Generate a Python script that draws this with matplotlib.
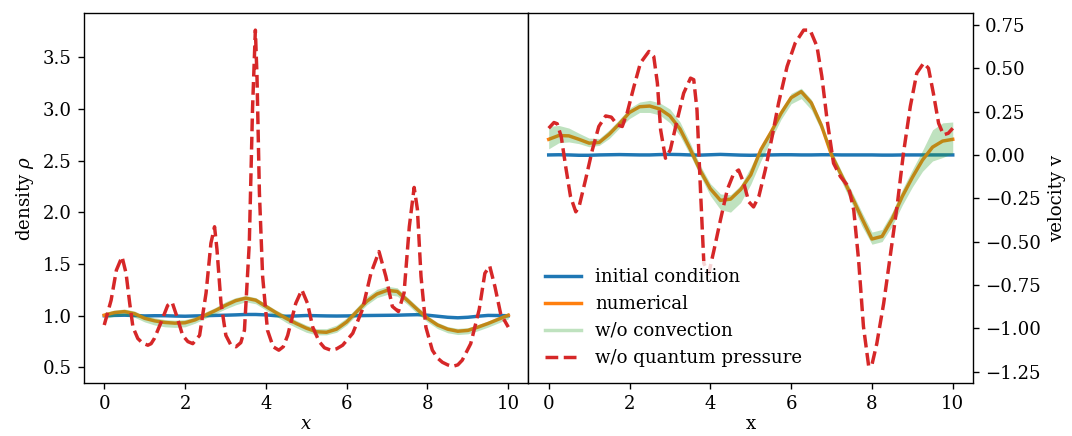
import numpy as np
import matplotlib
matplotlib.use("Agg")
import matplotlib.pyplot as plt
from matplotlib.lines import Line2D

# grid for the smooth solutions
x = np.linspace(0, 10, 41)

# density: initial condition
rho_init = [1.0, 1.003, 1.005, 1.002, 0.998, 1.0, 1.0, 0.997, 0.995, 0.998,
            1.0, 1.003, 1.005, 1.008, 1.012, 1.012, 1.008, 1.0, 0.995, 0.998,
            1.002, 1.0, 0.998, 0.997, 0.998, 1.0, 1.002, 1.003, 1.004, 1.005,
            1.008, 1.01, 1.005, 0.995, 0.985, 0.98, 0.985, 0.995, 1.003, 1.002, 1.0]
# density: numerical
rho_num = [1.005, 1.03, 1.04, 1.02, 0.975, 0.95, 0.935, 0.928, 0.932, 0.96,
           1.005, 1.05, 1.10, 1.145, 1.17, 1.15, 1.09, 1.03, 0.975, 0.925,
           0.88, 0.845, 0.84, 0.87, 0.94, 1.04, 1.14, 1.21, 1.245, 1.235,
           1.15, 1.06, 0.975, 0.91, 0.87, 0.85, 0.858, 0.89, 0.925, 0.965, 1.005]
# density: w/o convection (center and spread)
rho_conv = [1.0, 1.025, 1.035, 1.015, 0.97, 0.945, 0.928, 0.922, 0.928, 0.958,
            1.005, 1.05, 1.10, 1.14, 1.165, 1.145, 1.085, 1.025, 0.97, 0.92,
            0.875, 0.845, 0.845, 0.875, 0.945, 1.045, 1.145, 1.215, 1.245, 1.23,
            1.145, 1.055, 0.97, 0.905, 0.865, 0.848, 0.855, 0.885, 0.92, 0.96, 1.0]
rho_conv_err = [0.03, 0.03, 0.03, 0.03, 0.03, 0.035, 0.035, 0.035, 0.035, 0.03,
                0.03, 0.03, 0.035, 0.035, 0.03, 0.03, 0.03, 0.03, 0.035, 0.035,
                0.035, 0.03, 0.03, 0.035, 0.035, 0.035, 0.04, 0.04, 0.04, 0.04,
                0.035, 0.035, 0.03, 0.03, 0.03, 0.03, 0.03, 0.03, 0.03, 0.03, 0.03]

# density: w/o quantum pressure
x_rho_qp = [0, 0.17, 0.30, 0.44, 0.54, 0.63, 0.71, 0.83, 0.95, 1.08, 1.16, 1.24, 1.41,
            1.57, 1.68, 1.80, 1.94, 2.07, 2.19, 2.36, 2.52, 2.64, 2.73, 2.79, 2.89,
            3.01, 3.13, 3.26, 3.38, 3.47, 3.59, 3.67, 3.74, 3.78, 3.84, 3.92, 4.04,
            4.18, 4.32, 4.43, 4.54, 4.74, 4.89, 5.03, 5.16, 5.32, 5.45, 5.61, 5.75,
            5.90, 6.15, 6.39, 6.60, 6.80, 6.97, 7.13, 7.28, 7.42, 7.55, 7.67, 7.75,
            7.84, 7.96, 8.12, 8.25, 8.37, 8.50, 8.62, 8.75, 8.86, 9.07, 9.28, 9.42,
            9.54, 9.67, 9.81, 10.0]
rho_qp = [0.91, 1.15, 1.44, 1.57, 1.41, 1.12, 0.89, 0.78, 0.735, 0.715, 0.73, 0.78, 0.94,
          1.10, 1.13, 0.99, 0.81, 0.75, 0.73, 0.81, 1.22, 1.70, 1.86, 1.64, 1.12,
          0.81, 0.72, 0.70, 0.74, 0.86, 1.70, 3.00, 3.76, 3.32, 2.19, 1.38, 0.86,
          0.70, 0.667, 0.70, 0.81, 1.12, 1.25, 1.12, 0.89, 0.75, 0.69, 0.667, 0.68,
          0.715, 0.83, 1.06, 1.41, 1.62, 1.38, 1.09, 1.04, 1.22, 1.86, 2.24, 2.03,
          1.38, 0.89, 0.667, 0.59, 0.55, 0.525, 0.51, 0.525, 0.57, 0.73, 1.06, 1.41,
          1.48, 1.28, 1.02, 0.89]

# velocity: initial condition
v_init = [0.0, 0.001, 0.0, -0.002, -0.002, 0.0, 0.001, 0.002, 0.001, 0.0,
          0.0, 0.002, 0.003, 0.002, 0.0, -0.001, 0.001, 0.003, 0.001, -0.001,
          -0.002, -0.001, 0.0, 0.001, 0.001, 0.0, 0.0, 0.001, 0.001, 0.0,
          0.0, 0.0, 0.0, -0.001, -0.001, 0.0, 0.0, 0.0, 0.0, 0.0, 0.0]
# velocity: numerical
v_num = [0.09, 0.112, 0.11, 0.09, 0.068, 0.072, 0.12, 0.18, 0.245, 0.278,
         0.282, 0.265, 0.225, 0.15, 0.035, -0.09, -0.195, -0.262, -0.255, -0.2,
         -0.115, 0.03, 0.13, 0.24, 0.33, 0.365, 0.3, 0.17, 0.0, -0.12,
         -0.24, -0.365, -0.485, -0.47, -0.37, -0.24, -0.13, -0.03, 0.045, 0.08, 0.09]
# velocity: w/o convection (center and spread)
v_conv = [0.10, 0.12, 0.115, 0.095, 0.072, 0.075, 0.12, 0.18, 0.24, 0.275,
          0.28, 0.265, 0.225, 0.15, 0.035, -0.09, -0.2, -0.27, -0.28, -0.225,
          -0.12, 0.01, 0.12, 0.235, 0.325, 0.355, 0.29, 0.165, 0.0, -0.125,
          -0.245, -0.37, -0.48, -0.465, -0.37, -0.245, -0.135, -0.035, 0.055, 0.085, 0.10]
v_conv_err = [0.065, 0.05, 0.04, 0.03, 0.025, 0.02, 0.025, 0.025, 0.03, 0.03,
              0.035, 0.035, 0.04, 0.04, 0.035, 0.03, 0.035, 0.045, 0.05, 0.05,
              0.05, 0.045, 0.035, 0.03, 0.03, 0.03, 0.03, 0.025, 0.025, 0.03,
              0.035, 0.04, 0.035, 0.035, 0.04, 0.045, 0.05, 0.06, 0.09, 0.1, 0.09]

# velocity: w/o quantum pressure
x_v_qp = [0, 0.13, 0.21, 0.31, 0.42, 0.54, 0.67, 0.75, 0.91, 1.08, 1.24, 1.41, 1.55,
          1.70, 1.82, 1.94, 2.11, 2.27, 2.48, 2.60, 2.69, 2.77, 2.89, 3.01, 3.18,
          3.34, 3.51, 3.59, 3.67, 3.76, 3.84, 3.96, 4.09, 4.25, 4.42, 4.58, 4.70,
          4.83, 4.95, 5.07, 5.20, 5.36, 5.53, 5.69, 5.90, 6.10, 6.31, 6.47, 6.64,
          6.76, 6.89, 7.05, 7.22, 7.42, 7.55, 7.67, 7.79, 7.92, 8.00, 8.12, 8.29,
          8.45, 8.62, 8.78, 8.95, 9.11, 9.28, 9.40, 9.52, 9.65, 9.77, 9.89, 10.0]
v_qp = [0.154, 0.187, 0.18, 0.106, -0.067, -0.24, -0.328, -0.30, -0.145, 0.029, 0.164,
        0.225, 0.218, 0.173, 0.164, 0.241, 0.395, 0.53, 0.597, 0.568, 0.414, 0.145,
        -0.019, 0.029, 0.202, 0.356, 0.443, 0.434, 0.26, -0.22, -0.626, -0.684,
        -0.55, -0.376, -0.20, -0.106, -0.087, -0.164, -0.27, -0.30, -0.24, -0.087,
        0.106, 0.30, 0.51, 0.645, 0.72, 0.72, 0.626, 0.453, 0.202, -0.048, -0.125,
        -0.183, -0.318, -0.607, -0.99, -1.22, -1.21, -1.089, -0.857, -0.588, -0.30,
        0.01, 0.28, 0.472, 0.53, 0.50, 0.356, 0.183, 0.116, 0.125, 0.154]

plt.rcParams['font.family'] = ['DejaVu Serif']
plt.rcParams['mathtext.fontset'] = 'dejavuserif'
plt.rcParams['font.size'] = 10.5

dpi = 124
fig, (ax1, ax2) = plt.subplots(1, 2, figsize=(1072 / dpi, 436 / dpi), dpi=dpi)
fig.subplots_adjust(left=0.0784, right=0.9076, bottom=0.121, top=0.9695, wspace=0)

green = '#2ca02c'

# left panel: density
ax1.plot(x, rho_init, color='#1f77b4', lw=2)
ax1.plot(x, rho_num, color='#ff7f0e', lw=2)
lo = np.array(rho_conv) - np.array(rho_conv_err)
hi = np.array(rho_conv) + np.array(rho_conv_err)
ax1.fill_between(x, lo, hi, color=green, alpha=0.3, lw=0, zorder=2.5)
ax1.plot(x_rho_qp, rho_qp, color='#d62728', lw=2, ls='--', zorder=3)
ax1.set_xlabel('$x$', labelpad=1)
ax1.set_ylabel(r'density $\rho$')
ax1.set_xticks([0, 2, 4, 6, 8, 10])

# right panel: velocity
ax2.plot(x, v_init, color='#1f77b4', lw=2)
ax2.plot(x, v_num, color='#ff7f0e', lw=2)
lo = np.array(v_conv) - np.array(v_conv_err)
hi = np.array(v_conv) + np.array(v_conv_err)
ax2.fill_between(x, lo, hi, color=green, alpha=0.3, lw=0, zorder=2.5)
ax2.plot(x_v_qp, v_qp, color='#d62728', lw=2, ls='--', zorder=3)
ax2.yaxis.tick_right()
ax2.yaxis.set_label_position('right')
ax2.set_xlabel('x', labelpad=1)
ax2.set_ylabel('velocity v')
ax2.set_xticks([0, 2, 4, 6, 8, 10])

handles = [Line2D([], [], color='#1f77b4', lw=2),
           Line2D([], [], color='#ff7f0e', lw=2),
           Line2D([], [], color=green, lw=2, alpha=0.3),
           Line2D([], [], color='#d62728', lw=2, ls='--')]
labels = ['initial condition', 'numerical', 'w/o convection', 'w/o quantum pressure']
leg = ax2.legend(handles, labels, loc='lower left', fontsize=10.5)
leg.get_frame().set_edgecolor('none')
leg.set_zorder(5)

fig.savefig('out.png', dpi=dpi)
